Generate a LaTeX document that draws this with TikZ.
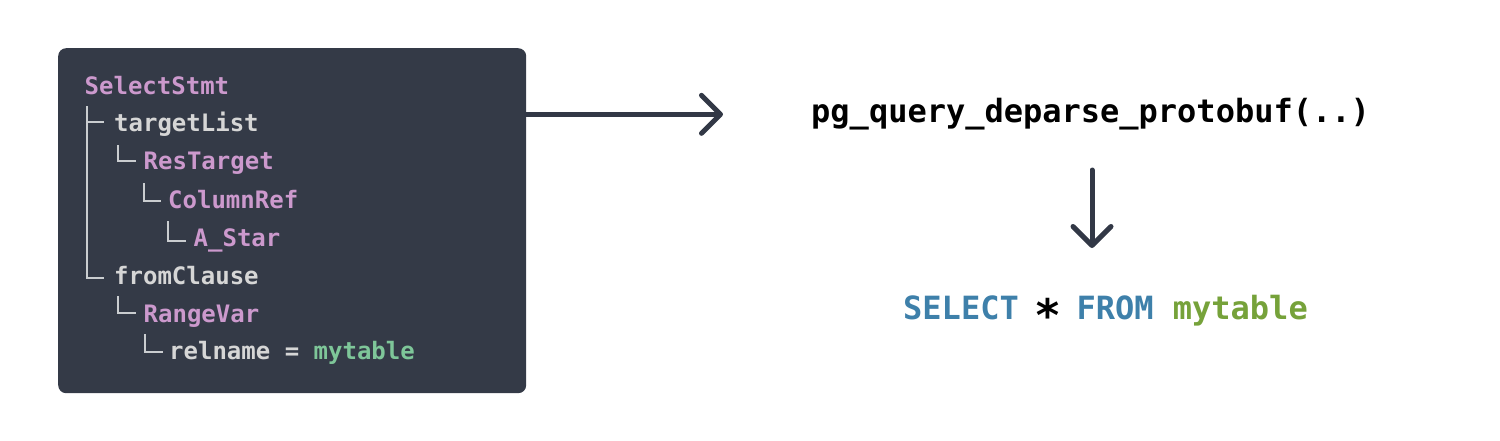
\documentclass[tikz,border=0pt]{standalone}
\usepackage{fontspec}
\setmonofont{DejaVu Sans Mono}
\usetikzlibrary{arrows.meta,calc}
\definecolor{boxbg}{HTML}{343A47}
\definecolor{arrowc}{HTML}{323846}
\definecolor{kwpurple}{HTML}{CC99CD}
\definecolor{plaingray}{HTML}{D6D6D6}
\definecolor{treegray}{HTML}{CACDD0}
\definecolor{strgreen}{HTML}{7EC699}
\definecolor{sqlblue}{HTML}{3E80AA}
\definecolor{sqlgreen}{HTML}{76A23A}
\tikzset{
  treetxt/.style={anchor=base west, inner sep=0pt, font=\ttfamily\bfseries\fontsize{24}{24}\selectfont},
  kw/.style={treetxt, text=kwpurple},
  fld/.style={treetxt, text=plaingray},
  treeline/.style={draw=treegray, line width=2pt},
  bigtxt/.style={anchor=base west, inner sep=0pt, font=\ttfamily\bfseries\fontsize{32}{32}\selectfont},
  arr/.style={draw=arrowc, line width=5pt, line cap=round, line join=round,
    -{Straight Barb[length=19pt, width=38pt, line cap=round, line join=round]}},
}
\begin{document}
\begin{tikzpicture}[x=1pt, y=-1pt]
\useasboundingbox (0,0) rectangle (1500,440);
\node[fill=boxbg, rounded corners=8pt, minimum width=468pt, minimum height=345pt, inner sep=0pt, anchor=north west] (box) at (58,48) {};
% tree texts
\node[kw]  (sel) at (84.5,94)   {SelectStmt};
\node[fld] (tl)  at (114,131.5) {targetList};
\node[kw]  (rt)  at (143.5,169.7) {ResTarget};
\node[kw]  (cr)  at (168,208)   {ColumnRef};
\node[kw]  (as)  at (193.5,246.3) {A\_Star};
\node[fld] (fc)  at (114,284)   {fromClause};
\node[kw]  (rv)  at (143.5,322) {RangeVar};
\node[fld] (rn)  at (169,359.7) {relname = \textcolor{strgreen}{mytable}};
% tree connectors
\draw[treeline] ($(sel.base west)+(2.8,12.3)$) |- ($(tl.base west)+(-10,-9.5)$);
\draw[treeline] ($(sel.base west)+(2.8,12.3)$) |- ($(fc.base west)+(-10,-6)$);
\draw[treeline] ($(tl.base west)+(4,13.5)$) |- ($(rt.base west)+(-7.5,-8.4)$);
\draw[treeline] ($(rt.base west)+(0.5,13.5)$) |- ($(cr.base west)+(-7,-6.7)$);
\draw[treeline] ($(cr.base west)+(0,13)$) |- ($(as.base west)+(-8,-5.3)$);
\draw[treeline] ($(fc.base west)+(4,12)$) |- ($(rv.base west)+(-7.5,-9)$);
\draw[treeline] ($(rv.base west)+(1.8,12)$) |- ($(rn.base west)+(-6,-7.7)$);
% right side
\node[bigtxt] (pg) at (811,122.7) {pg\_query\_deparse\_protobuf(..)};
\node[bigtxt] (sql) at (903,319.3) {\textcolor{sqlblue}{SELECT} \makebox[0.602em]{\raisebox{-12pt}{\scalebox{1.4}{*}}} \textcolor{sqlblue}{FROM} \textcolor{sqlgreen}{mytable}};
\draw[arr, shorten >=88pt] (box.east |- pg.west) -- (pg.west);
\coordinate (vtop) at (1092,170);
\coordinate (vbot) at (1092,248);
\draw[arr] (vtop) -- (vbot);
\end{tikzpicture}
\end{document}
